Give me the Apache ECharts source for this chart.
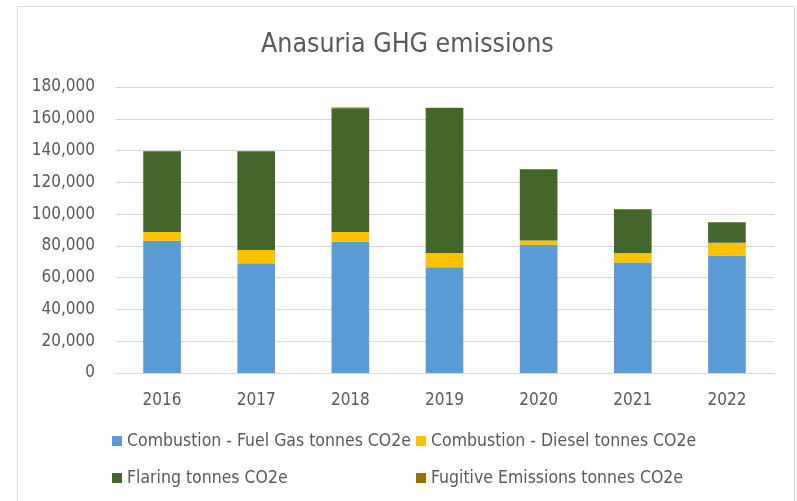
<!DOCTYPE html>
<html>
<head>
<meta charset="utf-8">
<script src="https://cdn.jsdelivr.net/npm/echarts@6/dist/echarts.min.js"></script>
<style>
  html, body { margin: 0; padding: 0; background: #fff; }
  #my_echart { width: 797px; height: 501px; }
</style>
</head>
<body>
<div id="my_echart"></div>
<script>
// chart data
var years = ['2016', '2017', '2018', '2019', '2020', '2021', '2022'];
var fuelGas = [83300, 69000, 82600, 66500, 80700, 69600, 74000];
var diesel = [5400, 8400, 6100, 9000, 2700, 5900, 8000];
var flaring = [50800, 62100, 78000, 91300, 44900, 27500, 12800];
var fugitive = [150, 150, 400, 150, 150, 150, 150];

var seriesNames = [
    'Combustion - Fuel Gas tonnes CO2e',
    'Combustion - Diesel tonnes CO2e',
    'Flaring tonnes CO2e',
    'Fugitive Emissions tonnes CO2e'
];
var seriesColors = ['#5B9BD5', '#FFC000', '#44662B', '#997300'];
var seriesData = [fuelGas, diesel, flaring, fugitive];

var fontFam = '"Liberation Sans Narrow", "DejaVu Sans Condensed", Roboto';
var textColor = '#595959';

var mychart = echarts.init(document.getElementById('my_echart'));

var series = seriesNames.map(function (name, i) {
    return {
        name: name,
        type: 'bar',
        stack: 'total',
        barWidth: '40%',
        itemStyle: { color: seriesColors[i] },
        data: seriesData[i]
    };
});

var legendStyle = {
    orient: 'vertical',
    padding: 0,
    itemWidth: 10,
    itemHeight: 10,
    itemGap: 19,
    icon: 'rect',
    textStyle: { fontFamily: fontFam, fontSize: 17.5, color: textColor }
};

mychart.setOption({
    animation: false,
    color: seriesColors,
    title: {
        text: 'Anasuria GHG emissions',
        left: 256,
        top: 27,
        textStyle: {
            fontFamily: fontFam,
            fontWeight: 'normal',
            fontSize: 26.5,
            color: textColor
        }
    },
    graphic: [{
        type: 'rect',
        shape: { x: 17.5, y: 6.5, width: 777, height: 600 },
        style: { fill: 'none', stroke: '#d9d9d9', lineWidth: 1 },
        silent: true
    }],
    legend: [
        Object.assign({ left: 112, top: 432, data: [seriesNames[0], seriesNames[2]] }, legendStyle),
        Object.assign({ left: 416, top: 432, data: [seriesNames[1], seriesNames[3]] }, legendStyle)
    ],
    grid: {
        left: 115,
        right: 23,
        top: 87,
        bottom: 128
    },
    xAxis: {
        type: 'category',
        data: years,
        axisLine: { lineStyle: { color: '#d9d9d9', width: 1 } },
        axisTick: { show: false },
        axisLabel: {
            fontFamily: fontFam,
            fontSize: 17,
            color: textColor,
            margin: 19
        }
    },
    yAxis: {
        type: 'value',
        min: 0,
        max: 180000,
        interval: 20000,
        axisLine: { show: false },
        axisTick: { show: false },
        splitLine: { lineStyle: { color: '#d9d9d9', width: 1 } },
        axisLabel: {
            fontFamily: fontFam,
            fontSize: 17,
            color: textColor,
            margin: 20,
            formatter: function (v) { return v.toLocaleString('en-US'); }
        }
    },
    series: series
});
</script>
</body>
</html>
